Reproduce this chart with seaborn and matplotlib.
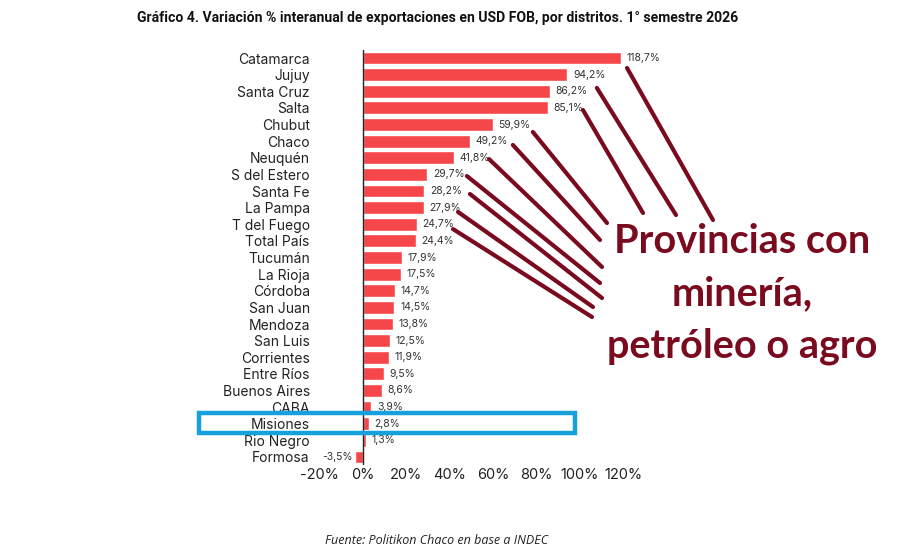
import matplotlib

matplotlib.use("Agg")
import matplotlib.pyplot as plt
import pandas as pd
import seaborn as sns

# data
districts = [
    "Catamarca", "Jujuy", "Santa Cruz", "Salta", "Chubut", "Chaco", "Neuquén",
    "S del Estero", "Santa Fe", "La Pampa", "T del Fuego", "Total País",
    "Tucumán", "La Rioja", "Córdoba", "San Juan", "Mendoza", "San Luis",
    "Corrientes", "Entre Ríos", "Buenos Aires", "CABA", "Misiones",
    "Rio Negro", "Formosa",
]
variation = [
    118.7, 94.2, 86.2, 85.1, 59.9, 49.2, 41.8, 29.7, 28.2, 27.9, 24.7, 24.4,
    17.9, 17.5, 14.7, 14.5, 13.8, 12.5, 11.9, 9.5, 8.6, 3.9, 2.8, 1.3, -3.5,
]
x_ticks = [-20, 0, 20, 40, 60, 80, 100, 120]

# provinces linked to the callout text
callout_districts = [
    "Catamarca", "Santa Cruz", "Salta", "Chubut", "Chaco", "Neuquén",
    "S del Estero", "Santa Fe", "La Pampa", "T del Fuego",
]
callout_text = "Provincias con\nminería,\npetróleo o agro"
highlight = "Misiones"

title = ("Gráfico 4. Variación % interanual de exportaciones en USD FOB, "
         "por distritos. 1° semestre 2026")
source = "Fuente: Politikon Chaco en base a INDEC"

BAR = "#F5474A"
WINE = "#7A0A1E"
BLUE = "#16A0DC"

sns.set_theme(style="white")
plt.rcParams["font.family"] = ["Inter", "DejaVu Sans"]

df = pd.DataFrame({"distrito": districts, "var": variation})

W, H = 899, 548
fig = plt.figure(figsize=(W / 100, H / 100), dpi=100)
ax = fig.add_axes([0.3555, 0.1509, 0.3427, 0.7584])

sns.barplot(data=df, y="distrito", x="var", orient="h", color=BAR,
            width=0.78, saturation=1, ax=ax)

ax.set_xlim(-20, 122)
ax.set_ylim(len(districts) - 0.5, -0.5)
for s in ax.spines.values():
    s.set_visible(False)
ax.axvline(0, color="#222222", lw=1.0, zorder=3)
ax.set_xticks(x_ticks)
ax.set_xticklabels([f"{t}%" for t in x_ticks], fontsize=10.5, color="#222222")
ax.tick_params(axis="x", length=0, pad=2)
ax.tick_params(axis="y", length=0, pad=7, labelsize=10, labelcolor="#222222")
ax.set_xlabel("")
ax.set_ylabel("")
ax.grid(False)

# value labels
for i, v in enumerate(variation):
    txt = f"{v:.1f}%".replace(".", ",")
    if v >= 0:
        ax.text(v + 2.6, i, txt, va="center", ha="left", fontsize=7.5,
                color="#333333", clip_on=False)
    else:
        ax.text(v - 1.4, i, txt, va="center", ha="right", fontsize=7.5,
                color="#333333", clip_on=False)

# callout lines: start beside each value label, end at the text block
start_dx = [3.0, 21.6, 16.3, 18.4, 19.9, 16.3, 18.2, 21.1, 15.9, 16.8]
start_dy = [0.6, -0.2, 0.13, 0.45, 0.23, 0.08, 0.1, 0.18, 0.26, 0.29]
end_px = [(713, 220), (676, 215), (643, 213), (607, 223), (600, 240),
          (602, 267), (600, 283), (602, 298), (593, 307), (592, 317)]
for name, dx, dy, (ex, ey) in zip(callout_districts, start_dx, start_dy, end_px):
    i = districts.index(name)
    ax.annotate("", xy=(variation[i] + dx, i + dy), xycoords="data",
                xytext=(ex, H - ey), textcoords="figure pixels",
                arrowprops=dict(arrowstyle="-", color=WINE, lw=3.0,
                                shrinkA=0, shrinkB=0, capstyle="round"),
                annotation_clip=False)

fig.text(742 / W, 1 - 294 / H, callout_text, ha="center", va="center",
         fontsize=28.5, fontweight="bold", color=WINE, linespacing=1.5,
         family=["Lato", "DejaVu Sans"])

# highlight box around Misiones
y_top = 1 - 413 / H
y_bot = 1 - 433 / H
box = plt.Rectangle((199 / W, y_bot), (575 - 199) / W, y_top - y_bot,
                    transform=fig.transFigure, fill=False, ec=BLUE, lw=3.2,
                    zorder=5)
fig.patches.append(box)

fig.text(438 / W, 1 - 18 / H, title, ha="center", va="center", fontsize=10.1,
         fontweight="bold", color="#111111", family=["Roboto", "DejaVu Sans"])
fig.text(437 / W, 1 - 540 / H, source, ha="center", va="center", fontsize=9,
         style="italic", color="#222222", family=["Open Sans", "DejaVu Sans"])

fig.savefig("out.png", dpi=100)
